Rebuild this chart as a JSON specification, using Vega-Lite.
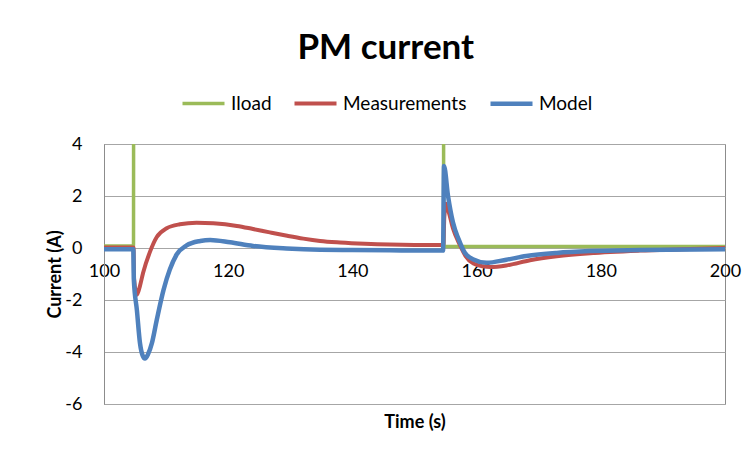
{
  "$schema": "https://vega.github.io/schema/vega-lite/v6.json",
  "width": 621,
  "height": 260,
  "autosize": "none",
  "padding": {"left": 104, "top": 144, "right": 25, "bottom": 51},
  "background": "white",
  "title": {"text": "PM current", "fontSize": 35, "font": "Lato", "fontWeight": "bold", "color": "#000000", "frame": "bounds", "anchor": "middle", "offset": 14, "dx": -8},
  "config": {"view": {"stroke": "#8c8c8c", "strokeWidth": 1}, "font": "Lato"},
  "data": {"values": [
    {"s": "Iload", "t": 100, "v": 0.08},
    {"s": "Iload", "t": 104.75, "v": 0.08},
    {"s": "Iload", "t": 104.8, "v": 20},
    {"s": "Iload", "t": 154.65, "v": 20},
    {"s": "Iload", "t": 154.7, "v": 0.06},
    {"s": "Iload", "t": 200, "v": 0.06},

    {"s": "Measurements", "t": 100, "v": 0.02},
    {"s": "Measurements", "t": 104.75, "v": 0.02},
    {"s": "Measurements", "t": 104.85, "v": -1.2},
    {"s": "Measurements", "t": 105.3, "v": -1.8},
    {"s": "Measurements", "t": 105.8, "v": -1.45},
    {"s": "Measurements", "t": 106.3, "v": -0.95},
    {"s": "Measurements", "t": 107.4, "v": -0.15},
    {"s": "Measurements", "t": 108.5, "v": 0.42},
    {"s": "Measurements", "t": 110.1, "v": 0.76},
    {"s": "Measurements", "t": 112.2, "v": 0.91},
    {"s": "Measurements", "t": 114.9, "v": 0.97},
    {"s": "Measurements", "t": 117.6, "v": 0.95},
    {"s": "Measurements", "t": 121.4, "v": 0.85},
    {"s": "Measurements", "t": 124, "v": 0.73},
    {"s": "Measurements", "t": 126.7, "v": 0.6},
    {"s": "Measurements", "t": 129.5, "v": 0.47},
    {"s": "Measurements", "t": 132.1, "v": 0.36},
    {"s": "Measurements", "t": 134.8, "v": 0.27},
    {"s": "Measurements", "t": 138, "v": 0.21},
    {"s": "Measurements", "t": 142, "v": 0.16},
    {"s": "Measurements", "t": 146, "v": 0.13},
    {"s": "Measurements", "t": 150, "v": 0.12},
    {"s": "Measurements", "t": 154.65, "v": 0.12},
    {"s": "Measurements", "t": 154.8, "v": 1.2},
    {"s": "Measurements", "t": 155.1, "v": 1.7},
    {"s": "Measurements", "t": 155.5, "v": 1.4},
    {"s": "Measurements", "t": 156.2, "v": 0.75},
    {"s": "Measurements", "t": 157.3, "v": 0.12},
    {"s": "Measurements", "t": 158.2, "v": -0.3},
    {"s": "Measurements", "t": 159.5, "v": -0.6},
    {"s": "Measurements", "t": 161, "v": -0.7},
    {"s": "Measurements", "t": 162.2, "v": -0.73},
    {"s": "Measurements", "t": 164.8, "v": -0.67},
    {"s": "Measurements", "t": 168.6, "v": -0.47},
    {"s": "Measurements", "t": 172.9, "v": -0.32},
    {"s": "Measurements", "t": 178.3, "v": -0.2},
    {"s": "Measurements", "t": 186.3, "v": -0.1},
    {"s": "Measurements", "t": 193, "v": -0.05},
    {"s": "Measurements", "t": 200, "v": 0.0},

    {"s": "Model", "t": 100, "v": -0.05},
    {"s": "Model", "t": 104.72, "v": -0.05},
    {"s": "Model", "t": 104.8, "v": -1.2},
    {"s": "Model", "t": 105.3, "v": -2.4},
    {"s": "Model", "t": 105.8, "v": -3.67},
    {"s": "Model", "t": 106.2, "v": -4.12},
    {"s": "Model", "t": 106.6, "v": -4.25},
    {"s": "Model", "t": 107.1, "v": -4.08},
    {"s": "Model", "t": 107.7, "v": -3.67},
    {"s": "Model", "t": 108.5, "v": -2.76},
    {"s": "Model", "t": 109.6, "v": -1.6},
    {"s": "Model", "t": 110.6, "v": -0.83},
    {"s": "Model", "t": 111.7, "v": -0.25},
    {"s": "Model", "t": 113.3, "v": 0.1},
    {"s": "Model", "t": 115.5, "v": 0.27},
    {"s": "Model", "t": 117.1, "v": 0.31},
    {"s": "Model", "t": 120.3, "v": 0.22},
    {"s": "Model", "t": 124, "v": 0.08},
    {"s": "Model", "t": 129.4, "v": -0.02},
    {"s": "Model", "t": 134.8, "v": -0.07},
    {"s": "Model", "t": 140, "v": -0.08},
    {"s": "Model", "t": 146, "v": -0.09},
    {"s": "Model", "t": 154.6, "v": -0.1},
    {"s": "Model", "t": 154.75, "v": 3.15},
    {"s": "Model", "t": 155.4, "v": 2.0},
    {"s": "Model", "t": 156.2, "v": 0.98},
    {"s": "Model", "t": 157.1, "v": 0.34},
    {"s": "Model", "t": 158.1, "v": -0.18},
    {"s": "Model", "t": 159.5, "v": -0.44},
    {"s": "Model", "t": 161.6, "v": -0.57},
    {"s": "Model", "t": 164.8, "v": -0.45},
    {"s": "Model", "t": 168, "v": -0.31},
    {"s": "Model", "t": 172.9, "v": -0.19},
    {"s": "Model", "t": 178.3, "v": -0.12},
    {"s": "Model", "t": 186.3, "v": -0.08},
    {"s": "Model", "t": 200, "v": -0.05}
  ]},
  "mark": {"type": "line", "clip": true, "interpolate": "monotone"},
  "encoding": {
    "x": {
      "field": "t", "type": "quantitative",
      "scale": {"domain": [100, 200], "nice": false, "zero": false},
      "axis": {
        "values": [100, 120, 140, 160, 180, 200],
        "offset": -156, "grid": false, "ticks": false, "domain": false,
        "labelFontSize": 18, "labelColor": "#000000", "labelPadding": 14, "labelFlush": false,
        "title": "Time (s)", "titleFontSize": 18, "titleFontWeight": "bold", "titleColor": "#000000",
        "titleY": 174, "titleBaseline": "middle"
      }
    },
    "y": {
      "field": "v", "type": "quantitative",
      "scale": {"domain": [-6, 4], "nice": false, "zero": false},
      "axis": {
        "values": [-6, -4, -2, 0, 2, 4],
        "labelExpr": "'' + datum.value",
        "ticks": false, "domainColor": "#8c8c8c", "gridColor": "#a6a6a6", "gridOpacity": 1,
        "labelFontSize": 18, "labelColor": "#000000", "labelPadding": 22,
        "title": "Current (A)", "titleFontSize": 18, "titleFontWeight": "bold", "titleColor": "#000000", "titlePadding": 0
      }
    },
    "color": {
      "field": "s", "type": "nominal",
      "scale": {"domain": ["Iload", "Measurements", "Model"], "range": ["#9BBB59", "#C0504D", "#4F81BD"]},
      "legend": {
        "title": null, "orient": "none", "direction": "horizontal", "columns": 3,
        "legendX": 76, "legendY": -64,
        "symbolType": "stroke", "symbolSize": 1764, "symbolStrokeWidth": 4.5,
        "labelFontSize": 19, "labelColor": "#000000", "labelOffset": 4, "columnPadding": 14
      }
    },
    "strokeWidth": {
      "field": "s", "type": "nominal",
      "scale": {"domain": ["Iload", "Measurements", "Model"], "range": [3.5, 4.5, 5]},
      "legend": null
    }
  }
}
